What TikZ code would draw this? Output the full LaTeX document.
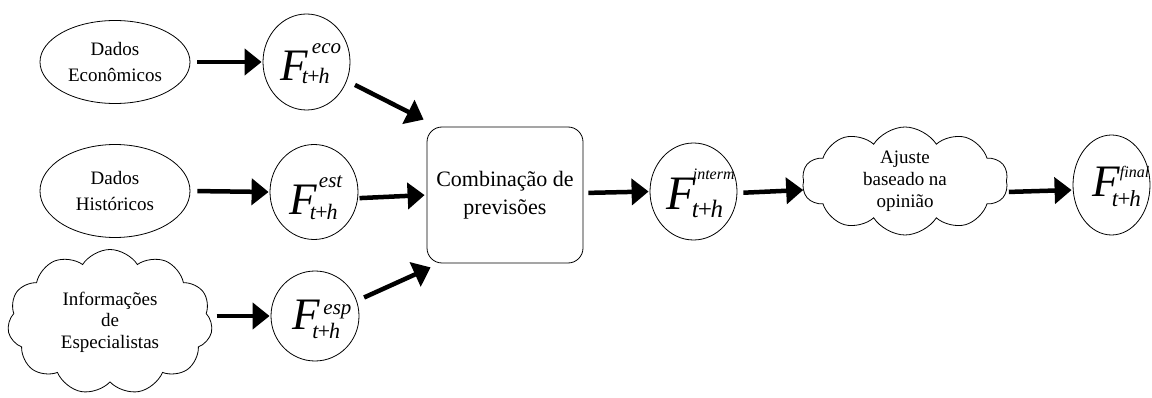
\documentclass[tikz,border=0pt]{standalone}
\usepackage{fontspec}
\setmainfont{Liberation Serif}
\usetikzlibrary{shapes.geometric,shapes.symbols,arrows.meta}
% #1 F size, #2 sup text, #3 sup size, #4 sup kern, #5 sup raise, #6 sub size, #7 sub kern, #8 sub raise, #9 box width
\newcommand{\Fsym}[9]{\makebox[#9][l]{\itshape\fontsize{#1}{#1}\selectfont F\makebox[0pt][l]{\kern#4\raisebox{#5}[0pt][0pt]{\fontsize{#3}{#3}\selectfont #2}}\kern#7\raisebox{#8}[0pt][0pt]{\fontsize{#6}{#6}\selectfont t\kern-0.1em+\kern-0.1em h}}}
\tikzset{
  fnode/.style={ellipse, draw, line width=0.8pt, inner sep=0pt, text depth=0pt},
  oval/.style={ellipse, draw, line width=0.8pt, inner sep=0pt, align=center,
    minimum width=150pt, font=\fontsize{19}{26.5}\selectfont},
  cloudbox/.style={cloud, draw, line width=0.8pt, cloud puffs=11, cloud puff arc=115,
    cloud ignores aspect, inner sep=0pt, align=center},
  combbox/.style={rectangle, draw, line width=0.8pt, rounded corners=15pt, align=center,
    minimum width=156pt, minimum height=136pt, font=\fontsize{22}{28}\selectfont},
  arr/.style={line width=4.5pt, -{Triangle[length=17pt,width=26pt]}},
}
\begin{document}
\begin{tikzpicture}[x=1pt,y=-1pt]
\useasboundingbox (0,0) rectangle (1152,398);
% sources
\node[oval, minimum height=83pt] (e1) at (115,62) {Dados\\Econômicos};
\node[oval, minimum height=93pt] (e2) at (115,191) {Dados\\Históricos};
\node[cloudbox, minimum width=205pt, minimum height=145pt, font=\fontsize{19}{21.5}\selectfont] (k1) at (110,322) {Informações\\de\\Especialistas};
% forecasts
\node[fnode, minimum width=87pt, minimum height=96pt, text height=37.8pt] (c1) at (306.5,62)
  {\Fsym{45}{eco}{21}{4pt}{27pt}{22}{-6pt}{-3pt}{52pt}};
\node[fnode, minimum width=88pt, minimum height=95pt, text height=45pt] (c2) at (314,192)
  {\Fsym{45}{est}{21}{2pt}{27pt}{22}{-7pt}{-5pt}{49pt}};
\node[fnode, minimum width=88pt, minimum height=90pt, text height=28pt] (c3) at (315,316)
  {\Fsym{45}{esp}{21}{4pt}{15pt}{22}{-7pt}{-9pt}{46pt}};
% combination
\node[combbox] (box) at (505,195) {Combinação de\\previsões};
\node[fnode, minimum width=87pt, minimum height=97pt, text height=35.4pt] (c4) at (693.5,191.5)
  {\Fsym{48}{interm}{16}{-3pt}{30pt}{25}{-4pt}{-8pt}{54pt}};
\node[cloudbox, cloud puffs=10, minimum width=206pt, minimum height=108pt, font=\fontsize{19}{22}\selectfont] (k2) at (905,181) {Ajuste\\baseado na\\opinião};
\node[fnode, minimum width=77pt, minimum height=100pt, text height=23.8pt] (c6) at (1111.5,185)
  {\Fsym{45}{final}{16}{0.5pt}{19pt}{23}{-7.5pt}{-10pt}{39pt}};
% connectors
\draw[arr, shorten <=7pt, shorten >=1pt] (e1.east) -- (c1.west);
\draw[arr, shorten <=7pt, shorten >=1pt] (e2.east) -- (c2.west);
\draw[arr, shorten <=5pt, shorten >=1pt] (k1.east |- c3.west) -- (c3.west);
\draw[arr, shorten <=9pt] (c1.-25) -- ([shift={(-3,-7)}]box.north west);
\draw[arr, shorten <=1.5pt, shorten >=2pt] (c2.-8) -- (box.west);
\draw[arr, shorten <=8pt] (c3.20) -- ([shift={(4,4)}]box.south west);
\draw[arr, shorten <=5pt, shorten >=1pt] ([yshift=2pt]box.east) -- (c4.west);
\draw[arr, shorten <=6pt] ([yshift=-1.5pt]c4.east) -- ([yshift=-9pt]k2.west);
\draw[arr, shorten <=2pt, shorten >=1pt] ([yshift=-11pt]k2.east) -- ([yshift=-5pt]c6.west);
\end{tikzpicture}
\end{document}
